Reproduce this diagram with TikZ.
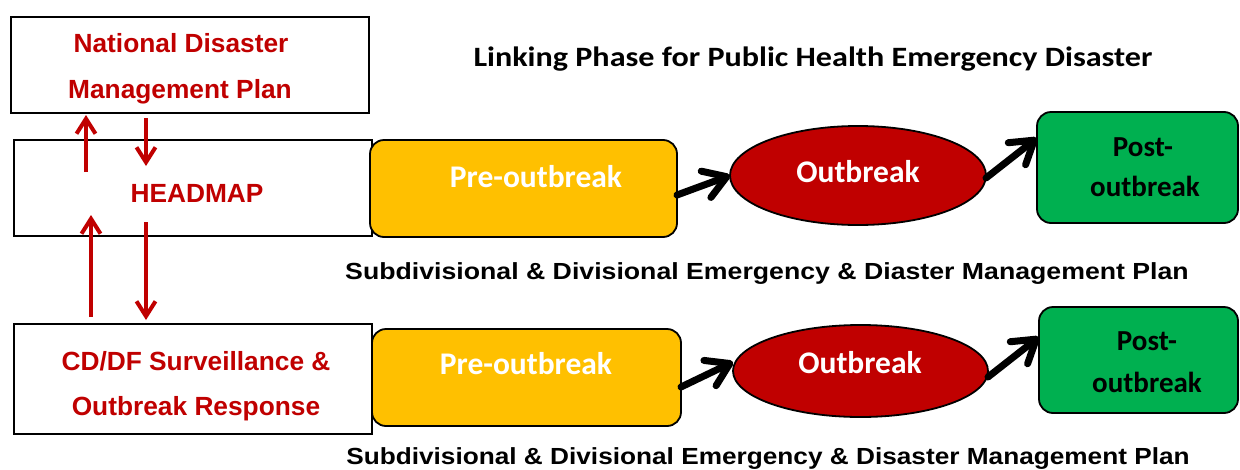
\documentclass[tikz,border=0pt]{standalone}
\usepackage{fontspec}
\usetikzlibrary{arrows.meta,shapes.geometric,calc}
\newfontfamily\arialf{Liberation Sans}
\newfontfamily\calf{Carlito}
\definecolor{dred}{HTML}{C00000}
\definecolor{gold}{HTML}{FFC000}
\definecolor{pgreen}{HTML}{00B050}
\begin{document}
\begin{tikzpicture}[x=1pt,y=-1pt,
  plainbox/.style={draw=black, line width=1.8pt, fill=white, inner sep=0pt, outer sep=0pt},
  phasebox/.style={draw=black, line width=1.8pt, rounded corners=14pt, inner sep=0pt, outer sep=0pt},
  ovalbox/.style={ellipse, draw=black, line width=1.8pt, fill=dred, inner sep=0pt, outer sep=0pt},
  redtxt/.style={text=dred, font=\arialf\bfseries\fontsize{26.3}{30}\selectfont, inner sep=0pt, anchor=base},
  subtxt/.style={text=black, font=\arialf\bfseries\fontsize{23.3}{27}\selectfont, inner sep=0pt, anchor=base},
  titletxt/.style={text=black, font=\calf\bfseries\fontsize{28}{32}\selectfont, inner sep=0pt, anchor=base},
  phasetxt/.style={font=\calf\bfseries\fontsize{31.5}{36}\selectfont, inner sep=0pt, anchor=base},
  posttxt/.style={text=black, font=\calf\bfseries\fontsize{29}{33}\selectfont, inner sep=0pt, anchor=base},
  redarrow/.style={draw=dred, line width=4pt, -{Straight Barb[length=15pt,width=19pt]}},
  blkarrow/.style={draw=black, line width=7pt, line cap=round, -{Straight Barb[round,length=22pt,width=28pt]}}
]
\useasboundingbox (0,0) rectangle (1240,469);

% left boxes
\node[plainbox, minimum width=358pt, minimum height=96pt] (ndmp) at (190,65) {};
\node[plainbox, minimum width=358pt, minimum height=96pt] (head) at (193,188) {};
\node[plainbox, minimum width=358pt, minimum height=110pt] (cd) at (193,379) {};

\node[redtxt] (ndmpA) at (181,52) {National Disaster};
\node[redtxt] (ndmpB) at (180,98) {Management Plan};
\node[redtxt] (headT) at (197,202) {HEADMAP};
\node[redtxt] (cdA) at (196,370) {CD/DF Surveillance \&};
\node[redtxt] (cdB) at (196,415) {Outbreak Response};

% title
\node[titletxt] (title) at (813,66) {\scalebox{1.148}[1]{Linking Phase for Public Health Emergency Disaster}};

% top row
\node[phasebox, fill=gold, minimum width=307pt, minimum height=97pt] (pre1) at (523.5,188.5) {};
\node[ovalbox, minimum width=256pt, minimum height=99pt] (out1) at (858,175.5) {};
\node[phasebox, fill=pgreen, minimum width=201pt, minimum height=111pt] (post1) at (1137.5,167.5) {};
\node[phasetxt, text=white] (pre1T) at (536,187) {Pre-outbreak};
\node[phasetxt, text=white] (out1T) at (858,182) {Outbreak};
\node[posttxt] (post1A) at (1143,156) {Post-};
\node[posttxt] (post1B) at (1145,196) {outbreak};
\node[subtxt] (sub1) at (767,279) {\scalebox{1.145}[1]{Subdivisional \& Divisional Emergency \& Diaster Management Plan}};

% bottom row
\node[phasebox, fill=gold, minimum width=309pt, minimum height=97pt] (pre2) at (526.5,377.5) {};
\node[ovalbox, minimum width=255pt, minimum height=92pt] (out2) at (860.5,371) {};
\node[phasebox, fill=pgreen, minimum width=199pt, minimum height=106pt] (post2) at (1138.5,360) {};
\node[phasetxt, text=white] (pre2T) at (526,374) {Pre-outbreak};
\node[phasetxt, text=white] (out2T) at (860,373) {Outbreak};
\node[posttxt] (post2A) at (1147,350) {Post-};
\node[posttxt] (post2B) at (1147,392) {outbreak};
\node[subtxt] (sub2) at (768,464) {\scalebox{1.125}[1]{Subdivisional \& Divisional Emergency \& Disaster Management Plan}};

% black phase arrows
\draw[blkarrow] ([yshift=-6.5pt]pre1.east) -- (out1.west);
\draw[blkarrow] ([yshift=-2.5pt]out1.east) -- ([yshift=29.5pt]post1.west);
\draw[blkarrow] ([yshift=-9.5pt]pre2.east) -- ([yshift=9pt]out2.west);
\draw[blkarrow] ([yshift=-6pt]out2.east) -- ([yshift=23pt]post2.west);

% red link arrows
\coordinate (u1s) at (86,172);
\coordinate (d1e) at (146,166);
\coordinate (u2e) at (91,215);
\coordinate (d2s) at (146,222);
\draw[redarrow, shorten >=2pt] (u1s) -- (u1s |- ndmp.south);
\draw[redarrow, shorten <=5pt] (d1e |- ndmp.south) -- (d1e);
\draw[redarrow, shorten <=7pt] (u2e |- cd.north) -- (u2e);
\draw[redarrow, shorten >=4pt] (d2s) -- (d2s |- cd.north);
\end{tikzpicture}
\end{document}
